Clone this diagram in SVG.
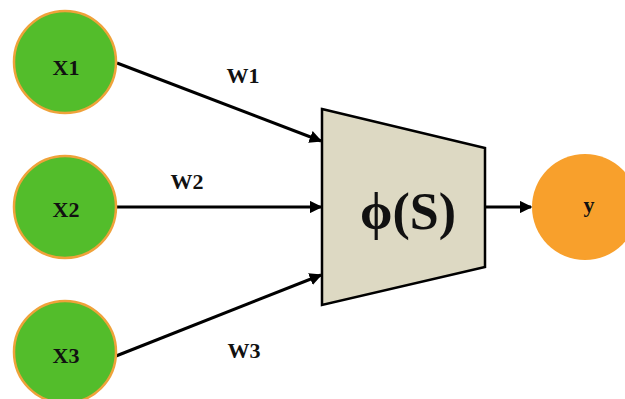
<svg xmlns="http://www.w3.org/2000/svg" width="625" height="399" viewBox="0 0 625 399">
<defs>
<style>
.in{fill:#53BD2B;stroke:#EFA23A;stroke-width:2.5}
.lbl{font-family:"Liberation Serif","Times New Roman",serif;font-weight:bold;font-size:22px;fill:#111;text-anchor:middle}
.ln{stroke:#000;stroke-width:3;fill:none;marker-end:url(#ah)}
</style>
<marker id="ah" viewBox="0 0 10 10" refX="9" refY="5" markerWidth="4.2" markerHeight="4.2" orient="auto" markerUnits="strokeWidth">
<path d="M0,0 L10,5 L0,10 z" fill="#000"/>
</marker>
</defs>
<rect width="625" height="399" fill="#fff"/>
<g id="connectors">
<line class="ln" x1="117" y1="63" x2="321" y2="141"/>
<line class="ln" x1="117" y1="207" x2="321" y2="207"/>
<line class="ln" x1="116" y1="356" x2="321" y2="275"/>
<line class="ln" x1="486" y1="207" x2="531" y2="207"/>
<text class="lbl" x="243" y="83">W1</text>
<text class="lbl" x="187" y="189">W2</text>
<text class="lbl" x="244" y="358">W3</text>
</g>
<g id="x1"><circle class="in" cx="65" cy="62" r="51"/><text class="lbl" x="66" y="75">X1</text></g>
<g id="x2"><circle class="in" cx="65" cy="207" r="51"/><text class="lbl" x="66" y="217">X2</text></g>
<g id="x3"><circle class="in" cx="65" cy="352" r="51"/><text class="lbl" x="66" y="363">X3</text></g>
<g id="phi">
<polygon points="322,109 485,148 485,267 322,305" fill="#DDD9C3" stroke="#000" stroke-width="2.5"/>
<text x="408" y="229" font-family="'Liberation Serif','Times New Roman',serif" font-weight="bold" font-size="52" text-anchor="middle" fill="#111">ϕ(S)</text>
</g>
<g id="y"><circle cx="585" cy="207" r="53" fill="#F8A02C"/><text class="lbl" x="589" y="212">y</text></g>
</svg>
